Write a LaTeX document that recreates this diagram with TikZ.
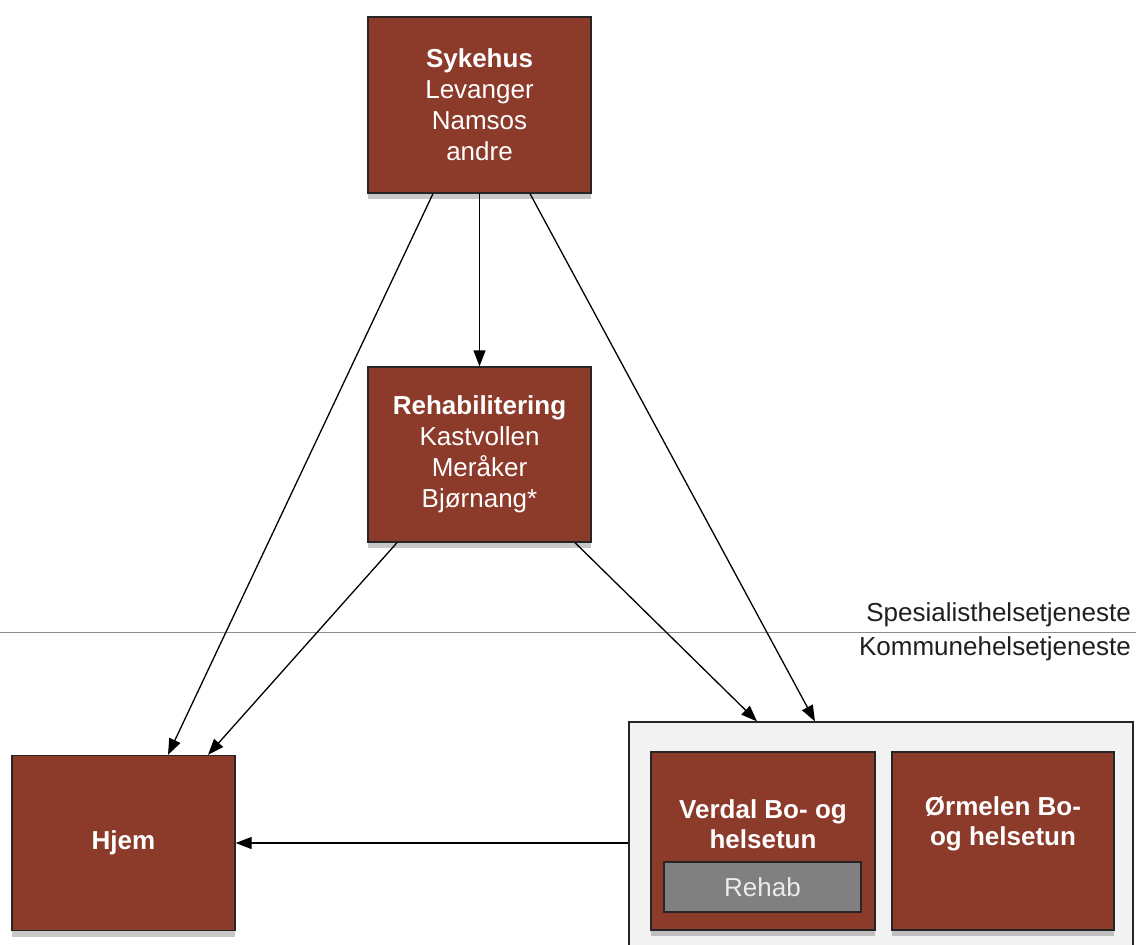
\documentclass[tikz,border=0pt]{standalone}
\usepackage{fontspec}
\setmainfont{Liberation Sans}
\usetikzlibrary{arrows.meta,shadows}
\definecolor{boxred}{RGB}{140,58,42}
\definecolor{rehabgray}{RGB}{128,128,128}
\definecolor{contfill}{RGB}{242,242,242}
\tikzset{
  redbox/.style={draw=black!85, line width=1.3pt, fill=boxred, inner sep=0pt,
    drop shadow={shadow xshift=0pt, shadow yshift=-6pt, opacity=0.3, fill=black!70},
    text=white, align=center, font=\fontsize{26}{31}\selectfont},
  conn/.style={draw=black, line width=1.3pt, -{Triangle[length=16pt,width=12pt]}},
  sidetext/.style={font=\fontsize{26}{30}\selectfont, text=black!88, anchor=east, inner sep=0pt}
}
\begin{document}
\begin{tikzpicture}[x=1pt,y=-1pt]
\useasboundingbox (0,0) rectangle (1136,945);
\fill[white] (0,0) rectangle (1136,945);
% divider
\draw[black!45, line width=1pt] (0,632) -- (1136,632);
\node[sidetext] (spes) at (1131,615) {Spesialisthelsetjeneste};
\node[sidetext] (komm) at (1131,649) {Kommunehelsetjeneste};
% container
\node[draw=black!85, line width=1.2pt, fill=contfill, minimum width=504pt, minimum height=242pt, inner sep=0pt] (cont) at (881,843) {};
% boxes
\node[redbox, minimum width=223pt, minimum height=176pt] (syk) at (479.5,105) {\textbf{Sykehus}\\Levanger\\Namsos\\andre};
\node[redbox, minimum width=223pt, minimum height=175pt] (reh) at (479.5,454.5) {\textbf{Rehabilitering}\\Kastvollen\\Meråker\\Bjørnang*};
\node[redbox, minimum width=223pt, minimum height=175pt] (hjem) at (123.5,843) {\textbf{Hjem}};
\node[redbox, minimum width=224pt, minimum height=178pt] (verdal) at (763,841) {};
\node[redbox, minimum width=222pt, minimum height=178pt] (orm) at (1003,841) {};
\node[text=white, align=center, font=\fontsize{26}{30}\bfseries\selectfont] (verdaltxt) at (763,824) {Verdal Bo- og\\helsetun};
\node[text=white, align=center, font=\fontsize{26}{30}\bfseries\selectfont] (ormtxt) at (1003,824) {Ørmelen Bo-\\og helsetun};
\node[draw=black!85, line width=1.3pt, fill=rehabgray, minimum width=197pt, minimum height=50pt, inner sep=0pt, text=black!8, font=\fontsize{26}{30}\selectfont] (rehab) at (762.5,887) {Rehab};
% connectors
\draw[conn] ([xshift=-46.5pt]syk.south) -- ([xshift=44.5pt]hjem.north);
\draw[conn] (syk.south) -- (reh.north);
\draw[conn] ([xshift=50.5pt]syk.south) -- ([xshift=-66pt]cont.north);
\draw[conn] ([xshift=-82.5pt]reh.south) -- ([xshift=84.5pt]hjem.north);
\draw[conn] ([xshift=95.5pt]reh.south) -- ([xshift=-124pt]cont.north);
\draw[conn] (cont.west) -- (hjem.east);
\end{tikzpicture}
\end{document}
